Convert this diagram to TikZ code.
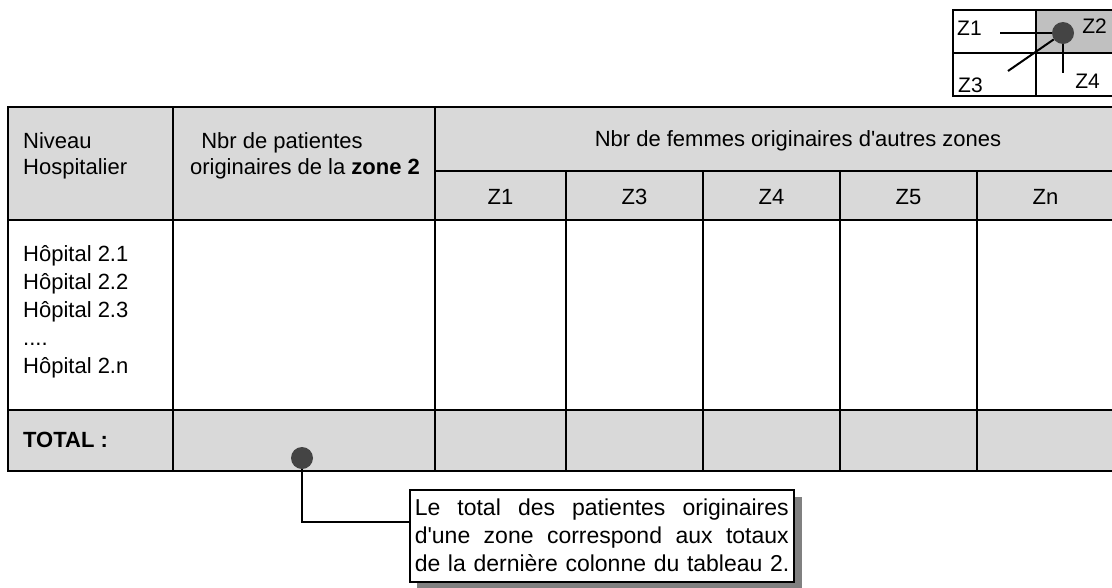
\documentclass[tikz,border=0pt]{standalone}
\usepackage{fontspec}
\setmainfont{Liberation Sans}
\newfontfamily\tabfont{Liberation Sans}
\usetikzlibrary{positioning}
\definecolor{cellgray}{RGB}{217,217,217}
\definecolor{keygray}{RGB}{192,192,192}
\definecolor{dotgray}{RGB}{68,68,68}
\definecolor{shadowgray}{RGB}{128,128,128}
\tikzset{
  txt/.style={inner sep=0pt, font=\tabfont\fontsize{22}{26}\selectfont},
  ztxt/.style={inner sep=0pt, font=\tabfont\fontsize{21}{22}\selectfont},
  pin/.style={circle, fill=dotgray, inner sep=0pt, minimum size=22pt},
  rule/.style={line width=2.5pt},
  thinrule/.style={line width=2pt},
  notebox/.style={draw, line width=1.5pt, fill=white, anchor=north west,
    inner xsep=5pt, inner ysep=5pt, text width=374pt, align=left,
    minimum height=92pt, font=\tabfont\fontsize{23}{28}\selectfont}
}
\begin{document}
\begin{tikzpicture}[x=1pt, y=-1pt]
\useasboundingbox (0,0) rectangle (1112,587);

% Zone key
\fill[keygray] (1036,10) rectangle (1119,53);
\draw[thinrule] (953,10) rectangle (1119,96);
\draw[thinrule] (953,53) -- (1119,53) (1036,10) -- (1036,96);
\node[ztxt, anchor=base west] (z1) at (957,35) {Z1};
\node[ztxt, anchor=base east] (z2) at (1107,33) {Z2};
\node[ztxt, anchor=base west] (z3) at (958,92) {Z3};
\node[ztxt, anchor=base east] (z4) at (1100,88) {Z4};
\node[pin] (zdot) at (1063,33) {};
\coordinate (zline) at (1000,33);
\coordinate (zdiag) at (1008,71);
\coordinate (zfoot) at (1063,73);
\draw[thinrule] (zline) -- (zdot);
\draw[thinrule] (zdiag) -- (zdot);
\draw[thinrule] (zdot) -- (zfoot);

% Table
\fill[cellgray] (8,107) rectangle (1114,220);
\fill[cellgray] (8,410) rectangle (1114,471);
\draw[rule] (8,107) rectangle (1114,471);
\draw[rule] (8,220) -- (1114,220) (8,410) -- (1114,410) (435,171) -- (1114,171);
\draw[rule] (173,107) -- (173,471) (435,107) -- (435,471);
\foreach \x in {566,703,840,977}
  \draw[rule] (\x,171) -- (\x,471);

% Header texts
\node[txt, anchor=north west, align=left] (level) at (23,132) {Niveau\\Hospitalier};
\node[txt, anchor=base] (hdpat) at (282,148) {Nbr de patientes};
\node[txt, anchor=base] (hdzone) at (305,174) {originaires de la \textbf{zone 2}};
\node[txt, anchor=base] (hdother) at (798,146) {Nbr de femmes originaires d'autres zones};
\foreach \name/\x in {Z1/500.5, Z3/634.5, Z4/771.5, Z5/908.5, Zn/1045.5}
  \node[txt, anchor=base] (col\name) at (\x,204) {\name};

% Body and total
\node[txt, anchor=north west, align=left, font=\tabfont\fontsize{22}{28}\selectfont] (hosp) at (23,245)
  {Hôpital 2.1\\Hôpital 2.2\\Hôpital 2.3\\....\\Hôpital 2.n};
\node[txt, anchor=base west] (total) at (23,447) {\textbf{TOTAL :}};
\node[pin] (tdot) at (302,458) {};

% Note
\fill[shadowgray] (417,497) rectangle (802,589);
\node[notebox] (note) at (409,489)
  {\makebox[374pt][l]{Le\hfill total\hfill des\hfill patientes\hfill originaires}\\
   \makebox[374pt][l]{d'une\hfill zone\hfill correspond\hfill aux\hfill totaux}\\
   \makebox[374pt][l]{de la dernière colonne du tableau 2.}};
\draw[thinrule] (tdot) |- ([yshift=14pt]note.west);

\end{tikzpicture}
\end{document}
